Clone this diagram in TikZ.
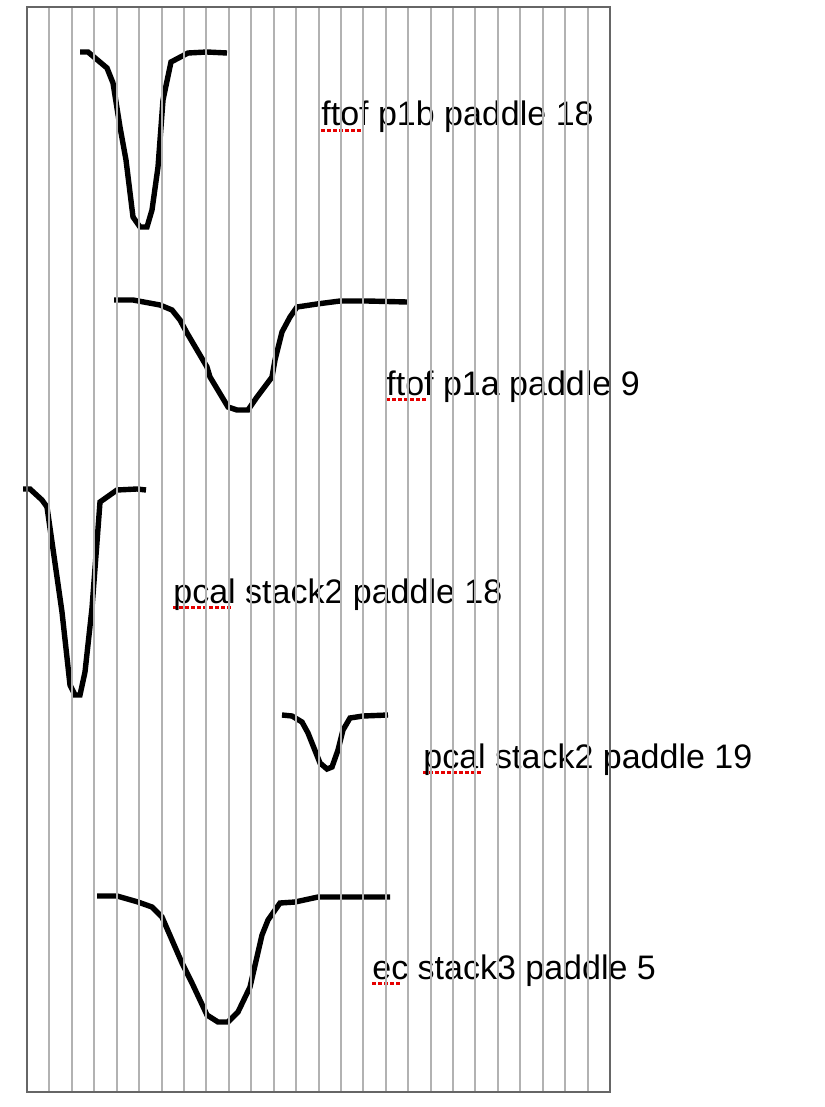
\documentclass[tikz,border=0pt]{standalone}
\usepackage{fontspec}
\setmainfont{Liberation Sans}
\usetikzlibrary{positioning}
% red dotted mark under a word
\newcommand{\spellmark}[1]{\setbox0\hbox{#1}\rlap{\raisebox{-3.2pt}{\hbox to \wd0{\color{red!90!black}\leaders\hbox to 3pt{\rule{2pt}{1.5pt}\hss}\hfil}}}\box0\relax}

\begin{document}
\begin{tikzpicture}[x=0.5pt,y=-0.5pt,
    pulse/.style={line width=2.7pt,black},
    gridline/.style={line width=1pt,black!30},
    frameline/.style={line width=1pt,black!60},
    tag/.style={anchor=base west,inner sep=0pt,font=\fontsize{17}{20}\selectfont}]
    \useasboundingbox (0,0) rectangle (824,1107);

    % labels
    \node [tag] (p1b) at (321,126) {\spellmark{ftof} p1b paddle 18};
    \node [tag] (p1a) at (386,395) {\spellmark{ftof} p1a paddle 9};
    \node [tag] (stacktwoA) at (173,603) {\spellmark{pcal} stack2 paddle 18};
    \node [tag] (stacktwoB) at (423,768) {\spellmark{pcal} stack2 paddle 19};
    \node [tag] (stackthree) at (372,979) {\spellmark{ec} stack3 paddle 5};

    % pulses
    \draw [pulse] plot coordinates {(80,52) (88,52) (107,68) (113,83) (120,127) (126,160)
      (133,217) (140,227) (147,227) (152,210) (158,167) (163,100) (171,62)
      (188,53) (207,52) (227,53)};
    \draw [pulse] plot coordinates {(114,300) (133,300) (160,305) (172,310) (180,320)
      (187,333) (207,367) (210,377) (228,407) (237,410) (248,410) (257,397)
      (272,377) (275,360) (282,332) (290,317) (297,307) (317,304) (340,301)
      (367,301) (407,302)};
    \draw [pulse] plot coordinates {(23,489) (30,489) (42,500) (47,507) (52,542)
      (62,612) (70,685) (75,695) (80,695) (85,672) (92,608) (97,542) (100,502)
      (117,490) (137,489) (146,490)};
    \draw [pulse] plot coordinates {(282,715) (292,716) (302,722) (308,733) (320,763)
      (327,769) (332,767) (338,750) (343,730) (350,718) (363,716) (388,715)};
    \draw [pulse] plot coordinates {(97,896) (117,896) (138,902) (152,907) (162,917)
      (182,963) (192,983) (207,1015) (218,1022) (228,1022) (238,1012) (250,987)
      (262,935) (268,920) (280,903) (295,902) (318,897) (352,897) (390,897)};

    % grid over everything
    \foreach \i in {1,...,25}
      \draw [gridline] ({27+\i*22.423},7) -- ({27+\i*22.423},1092);
    \draw [frameline] (27,7) rectangle (610,1092);
\end{tikzpicture}
\end{document}
